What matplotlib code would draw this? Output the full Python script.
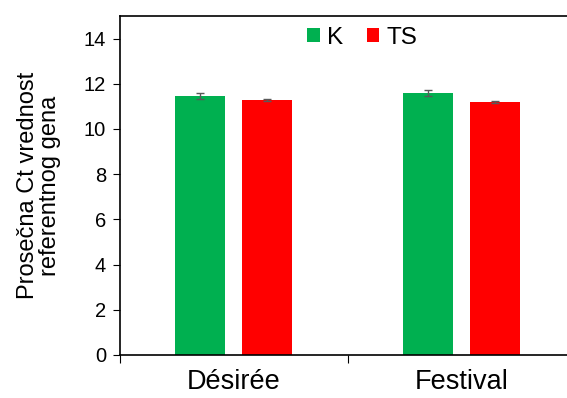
import matplotlib.pyplot as plt
import numpy as np

plt.rcParams['font.family'] = ['Liberation Sans', 'DejaVu Sans']

# mean Ct values of the reference gene
cultivars = ['Désirée', 'Festival']
series = ['K', 'TS']
ct_k = [11.45, 11.58]
ct_ts = [11.27, 11.20]
err_k = [0.13, 0.14]
err_ts = [0.04, 0.05]
colors = ['#00B050', '#FF0000']

fig = plt.figure(figsize=(5.67, 3.98), dpi=100)
ax = fig.add_axes([120 / 567, 43 / 398, 455 / 567, 339 / 398])

x = np.arange(len(cultivars))
w = 0.22
ax.bar(x - 0.147, ct_k, w, color=colors[0], label=series[0],
       yerr=err_k, error_kw=dict(ecolor='#595959', elinewidth=1, capsize=3, capthick=1))
ax.bar(x + 0.147, ct_ts, w, color=colors[1], label=series[1],
       yerr=err_ts, error_kw=dict(ecolor='#595959', elinewidth=1, capsize=3, capthick=1))

ax.set_xlim(-0.5, 1.5)
ax.set_ylim(0, 15)
ax.set_yticks(range(0, 15, 2))
ax.tick_params(axis='y', labelsize=14.5, direction='out', length=5, pad=5)

# category boundary ticks + centered labels
ax.set_xticks([-0.5, 0.5, 1.5])
ax.set_xticklabels([])
ax.set_xticks(x, minor=True)
ax.set_xticklabels(cultivars, minor=True, fontsize=19.5)
ax.tick_params(axis='x', which='major', direction='out', length=6)
ax.tick_params(axis='x', which='minor', length=0, pad=10)

for s in ax.spines.values():
    s.set_linewidth(1.2)

ax.set_ylabel('Prosečna Ct vrednost\nreferentnog gena', fontsize=17, linespacing=1.0)
ax.yaxis.set_label_coords(-0.13, 0.5)

ax.legend(loc='center', bbox_to_anchor=(0.533, 0.935), ncol=2, frameon=False,
          fontsize=17.5, handlelength=0.5, handleheight=0.5, handletextpad=0.3,
          columnspacing=1.0)

fig.savefig('out.png', dpi=100)
